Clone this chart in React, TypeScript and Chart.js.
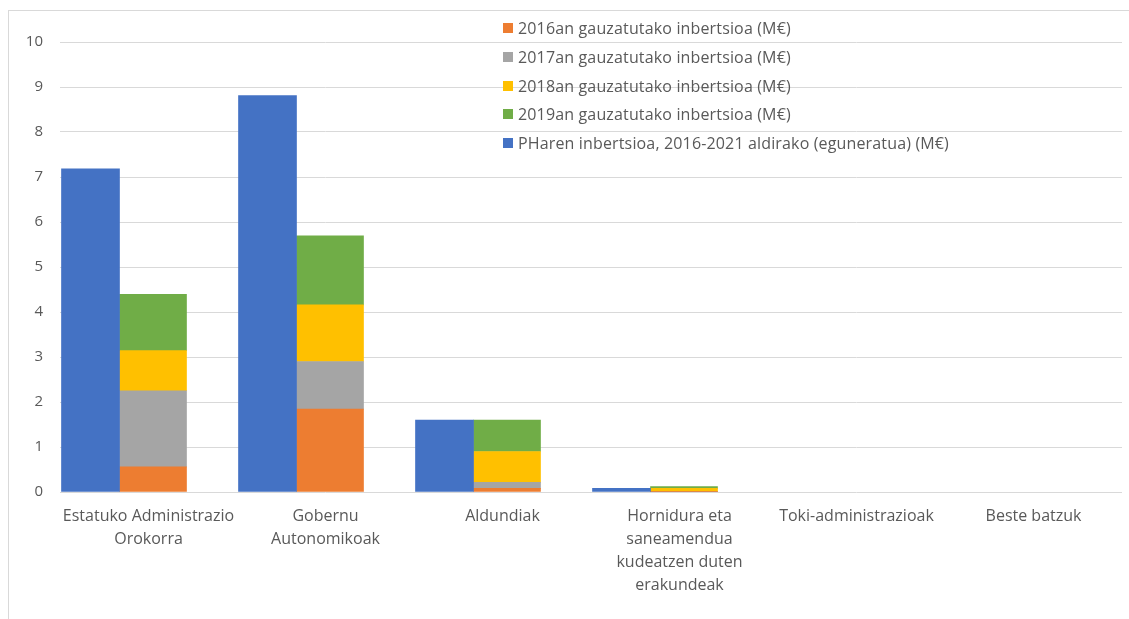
import React, { useEffect, useRef } from "react";
import { Chart, registerables } from "chart.js";

Chart.register(...registerables);

// ---- Data ----
const categories: (string | string[])[] = [
  ["Estatuko Administrazio", "Orokorra"],
  ["Gobernu", "Autonomikoak"],
  "Aldundiak",
  ["Hornidura eta", "saneamendua", "kudeatzen duten", "erakundeak"],
  "Toki-administrazioak",
  "Beste batzuk",
];

const planValues = [7.18, 8.81, 1.6, 0.08, 0, 0];
const inv2016 = [0.56, 1.84, 0.08, 0.005, 0, 0];
const inv2017 = [1.69, 1.06, 0.135, 0.005, 0, 0];
const inv2018 = [0.89, 1.26, 0.685, 0.07, 0, 0];
const inv2019 = [1.25, 1.53, 0.7, 0.04, 0, 0];

const seriesNames = [
  "2016an gauzatutako inbertsioa (M€)",
  "2017an gauzatutako inbertsioa (M€)",
  "2018an gauzatutako inbertsioa (M€)",
  "2019an gauzatutako inbertsioa (M€)",
  "PHaren inbertsioa, 2016-2021 aldirako (eguneratua) (M€)",
];
const seriesColors = ["#ED7D31", "#A5A5A5", "#FFC000", "#70AD47", "#4472C4"];

const yMin = 0;
const yMax = 10;
const yStep = 1;

const FONT = "'Open Sans', 'Liberation Sans', sans-serif";
const TEXT = "#595959";

// zero values carry no visible bar in the reference
const toPoints = (arr: number[]) => arr.map((v, i) => ({ x: i, y: v === 0 ? null : v }));

export default function App() {
  const ref = useRef<HTMLCanvasElement | null>(null);

  useEffect(() => {
    if (!ref.current) return;
    const n = categories.length;
    // the bar pair (plan | executed stack) sits left of each category centre, as in the Excel original
    const shift = 59.5 / 177;
    const stackSeries = [inv2016, inv2017, inv2018, inv2019];
    const chart = new Chart(ref.current, {
      type: "bar",
      data: {
        labels: categories as any,
        datasets: [
          {
            label: seriesNames[4],
            data: toPoints(planValues) as any,
            backgroundColor: seriesColors[4],
            xAxisID: "xBars",
            yAxisID: "y",
            stack: "plan",
            barThickness: 58,
          },
          ...stackSeries.map((arr, k) => ({
            label: seriesNames[k],
            data: toPoints(arr) as any,
            backgroundColor: seriesColors[k],
            xAxisID: "xBars",
            yAxisID: "y",
            stack: "inv",
            barThickness: 67,
          })),
        ],
      },
      options: {
        animation: false,
        responsive: false,
        devicePixelRatio: 1,
        layout: { padding: { top: 31, right: 7, bottom: 0, left: 0 } },
        plugins: {
          legend: { display: false },
          tooltip: { enabled: false },
        },
        scales: {
          x: {
            type: "category",
            position: "bottom",
            grid: { display: false, drawTicks: false },
            border: { display: false },
            ticks: {
              padding: 13,
              color: TEXT,
              maxRotation: 0,
              autoSkip: false,
              font: { family: FONT, size: 16, lineHeight: "23px" } as any,
            },
            afterFit: (s: any) => {
              s.height = 127;
            },
          },
          xBars: {
            type: "linear",
            position: "bottom",
            display: false,
            offset: false,
            bounds: "data",
            min: -shift,
            max: n - shift,
            grid: { display: false, offset: false },
            afterBuildTicks: (s: any) => {
              s.ticks = categories.map((_, i) => ({ value: i }));
            },
          },
          y: {
            stacked: true,
            min: yMin,
            max: yMax,
            grid: { color: "#D9D9D9", drawTicks: false, lineWidth: 1 },
            border: { display: false },
            ticks: {
              stepSize: yStep,
              padding: 17,
              color: TEXT,
              font: { family: FONT, size: 15 },
            },
            afterFit: (s: any) => {
              s.width = 51;
            },
          },
        },
      } as any,
    });
    return () => chart.destroy();
  }, []);

  const legendOrder = [0, 1, 2, 3, 4];

  return (
    <div
      style={{
        position: "absolute",
        left: 8,
        top: 10,
        width: 1125,
        height: 615,
        border: "1px solid #D9D9D9",
        background: "#fff",
      }}
    >
      <canvas ref={ref} width={1120} height={608} style={{ display: "block" }} />
      <div
        style={{
          position: "absolute",
          left: 494,
          top: 3,
          fontFamily: FONT,
          fontSize: 16,
          letterSpacing: "0.15px",
          color: TEXT,
        }}
      >
        {legendOrder.map((k) => (
          <div
            key={k}
            style={{ height: 28.7, display: "flex", alignItems: "center", whiteSpace: "nowrap" }}
          >
            <span
              style={{
                display: "inline-block",
                width: 10,
                height: 10,
                background: seriesColors[k],
                marginRight: 5,
              }}
            />
            <span>{seriesNames[k]}</span>
          </div>
        ))}
      </div>
    </div>
  );
}
